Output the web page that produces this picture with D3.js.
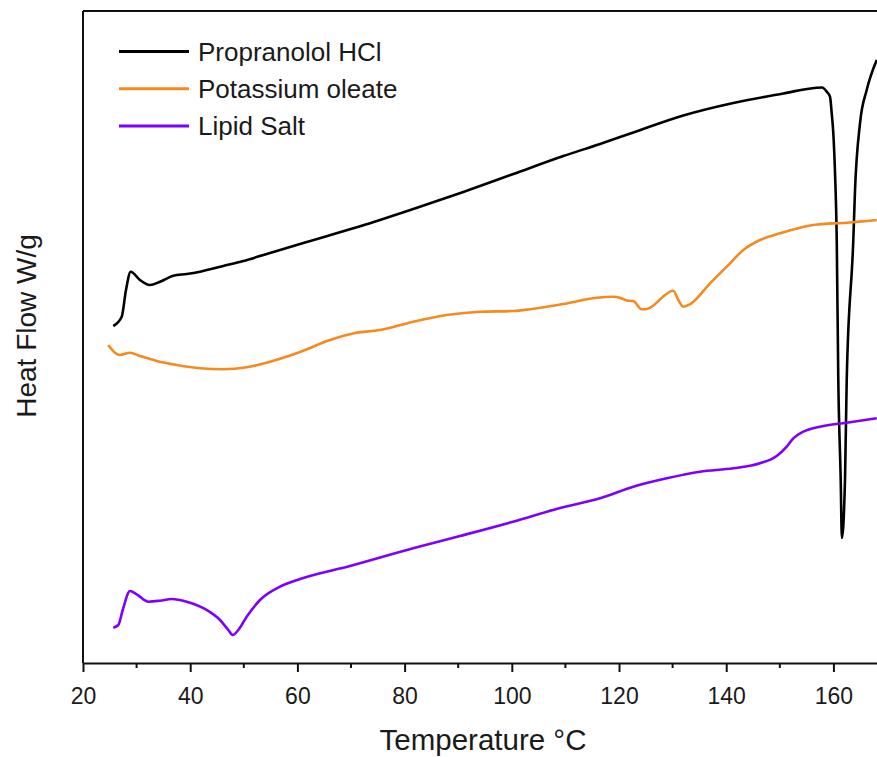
<!DOCTYPE html>
<html>
<head>
<meta charset="utf-8">
<script src="https://cdn.jsdelivr.net/npm/d3@7"></script>
<style>
	body { margin:0; background:#fff; }
	svg text { font-family: "Liberation Sans", Arial, sans-serif; fill:#1a1a1a; }
</style>
</head>
<body>
<div id="chart"></div>
<script>
// DSC traces, temperature (°C) and heat flow (a.u., offset per trace)
var propranololT = [25.65,27.22,28.02,28.90,30.63,32.50,34.37,36.85,39.35,41.83,46.18,49.91,54.27,60.49,75.41,81.62,90.95,100.28,109.61,116.46,122.67,131.99,141.32,150.65,156.88,157.87,158.75,159.36,159.68,159.98,160.30,160.62,160.91,161.36,161.58,162.16,162.48,163.71,164.03,164.96,166.21,168.08];
var propranololHF = [33.7,34.63,37.3,39.13,38.3,37.8,38.13,38.73,38.9,39.13,39.7,40.2,40.9,41.9,44.3,45.4,47.1,48.9,50.7,51.9,53.05,54.75,56.0,56.95,57.53,57.55,57.13,56.63,54.97,52.97,48.97,42.3,28.3,18.3,12.5,18.3,28.3,42.3,47.3,53.97,57.3,60.3];

var oleateT = [24.72,25.97,26.90,28.77,30.63,33.75,37.48,41.83,46.18,50.54,54.89,60.49,66.08,70.75,75.41,81.62,87.85,94.07,100.28,103.40,109.61,115.84,118.94,120.19,121.44,122.67,124.24,125.17,130.13,131.06,132.0,133.24,136.98,140.09,143.19,146.30,150.04,156.25,162.48,168.08];
var oleateHF = [31.8,31.03,30.8,31.03,30.7,30.2,29.8,29.47,29.37,29.57,30.13,31.1,32.3,33.0,33.3,34.13,34.8,35.13,35.2,35.37,35.9,36.53,36.63,36.53,36.25,36.2,35.37,35.4,37.23,36.3,35.63,35.87,37.97,39.63,41.3,42.3,42.97,43.8,44.03,44.3];

var lipidT = [25.65,26.59,27.41,28.77,30.02,32.18,34.37,36.55,39.35,43.08,45.56,47.11,47.93,48.97,50.54,53.02,56.75,60.49,69.81,81.75,90.34,100.04,108.99,116.46,122.67,128.90,135.11,141.32,146.30,149.42,151.29,152.52,154.38,157.5,162.48,168.08];
var lipidHF = [3.53,3.8,5.3,7.2,6.87,6.13,6.23,6.4,6.13,5.3,4.3,3.3,2.8,3.3,4.63,6.3,7.63,8.4,9.7,11.5,12.7,14.1,15.5,16.47,17.63,18.47,19.13,19.47,19.97,20.7,21.63,22.47,23.13,23.63,24.03,24.47];

var seriesNames = ["Propranolol HCl","Potassium oleate","Lipid Salt"];
var seriesColors = ["#000000","#f58a1f","#7d00ff"];
var xTicks = [20,40,60,80,100,120,140,160];
var xMinorTicks = [30,50,70,90,110,130,150,170];

var svg_width=877,
	svg_height=757,
	plot_left=83,
	plot_right=877,
	plot_top=11,
	plot_bottom=663;

var x = d3.scaleLinear().domain([20,168.13]).range([plot_left,plot_right]);
var y = d3.scaleLinear().domain([0,65.2]).range([plot_bottom,plot_top]);

var svg = d3.select("#chart").append("svg")
	.attr("width", svg_width)
	.attr("height", svg_height);

svg.append("defs").append("clipPath").attr("id","plotclip")
	.append("rect")
	.attr("x", plot_left).attr("y", plot_top)
	.attr("width", plot_right-plot_left).attr("height", plot_bottom-plot_top);

function zip(ts, hs) {
	return ts.map(function (t,i) { return [t, hs[i]]; });
}
var series = [zip(propranololT,propranololHF), zip(oleateT,oleateHF), zip(lipidT,lipidHF)];

var line = d3.line()
	.x(function (d) { return x(d[0]); })
	.y(function (d) { return y(d[1]); })
	.curve(d3.curveMonotoneX);

svg.append("g").attr("clip-path","url(#plotclip)")
	.selectAll("path.trace")
	.data(series).enter().append("path")
	.attr("class","trace")
	.attr("d", line)
	.attr("fill","none")
	.attr("stroke", function (d,i) { return seriesColors[i]; })
	.attr("stroke-width", 2.6)
	.attr("stroke-linejoin","round");

// frame: top + left lines
svg.append("line")
	.attr("x1", plot_left).attr("x2", plot_right)
	.attr("y1", plot_top).attr("y2", plot_top)
	.attr("stroke","#111").attr("stroke-width",2);
svg.append("line")
	.attr("x1", plot_left).attr("x2", plot_left)
	.attr("y1", plot_top).attr("y2", plot_bottom)
	.attr("stroke","#111").attr("stroke-width",2);

// x axis
var xAxis = svg.append("g")
	.attr("transform","translate(0,"+plot_bottom+")")
	.call(d3.axisBottom(x).tickValues(xTicks).tickSize(9).tickSizeOuter(0).tickPadding(16));
xAxis.select(".domain").attr("stroke","#111").attr("stroke-width",2);
xAxis.selectAll(".tick line").attr("stroke","#111").attr("stroke-width",2);
xAxis.selectAll(".tick text")
	.style("font-size","23px")
	.attr("fill","#1a1a1a");

svg.append("g").selectAll("line.minor")
	.data(xMinorTicks.filter(function (t) { return x(t) < plot_right; }))
	.enter().append("line")
	.attr("class","minor")
	.attr("x1", function (d) { return x(d); }).attr("x2", function (d) { return x(d); })
	.attr("y1", plot_bottom).attr("y2", plot_bottom+5)
	.attr("stroke","#111").attr("stroke-width",2);

svg.append("text")
	.attr("x", 483)
	.attr("y", 750)
	.style("text-anchor","middle")
	.style("font-size","29.5px")
	.text("Temperature °C");

svg.append("text")
	.attr("transform","translate(36,326) rotate(-90)")
	.style("text-anchor","middle")
	.style("font-size","28px")
	.text("Heat Flow W/g");

// legend
var legend = svg.selectAll("g.legend")
	.data(seriesNames).enter().append("g")
	.attr("class","legend")
	.attr("transform", function (d,i) { return "translate(119,"+(51.5+i*37.2)+")"; });
legend.append("line")
	.attr("x1",0).attr("x2",70)
	.attr("stroke", function (d,i) { return seriesColors[i]; })
	.attr("stroke-width",3);
legend.append("text")
	.attr("x",79)
	.attr("dy","0.36em")
	.style("font-size","26px")
	.text(function (d) { return d; });
</script>
</body>
</html>
